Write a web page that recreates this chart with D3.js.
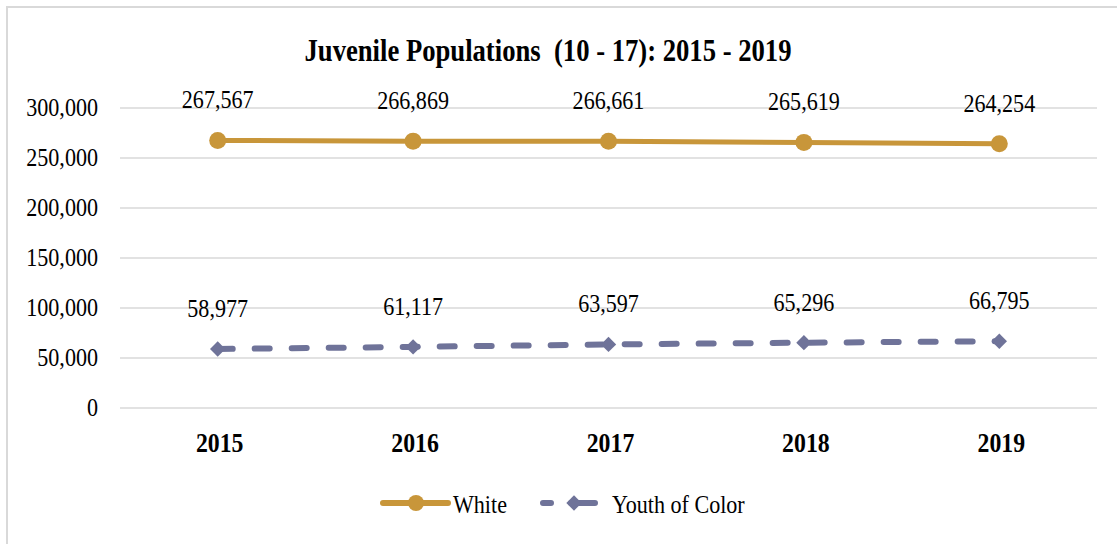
<!DOCTYPE html>
<meta charset="utf-8">
<style>
body { margin: 0; background: #fff; }

.chart text {
    font-family: "Liberation Serif", "Times New Roman", serif;
    fill: #000;
}

.chart .title {
    white-space: pre;
}

.chart .narrow {
    transform-box: fill-box;
    transform-origin: center;
    transform: scaleX(0.85);
}

.chart .tick-label {
    transform-origin: right;
}

.chart .legend-label {
    transform-origin: left;
}

.chart .grid line {
    stroke: #d9d9d9;
    stroke-width: 1.5;
}

.chart .frame {
    fill: none;
    stroke: #d9d9d9;
    stroke-width: 2;
}
</style>
<body>
<svg class="chart js-chart"></svg>

<script src="https://cdn.jsdelivr.net/npm/d3@7"></script>
<script>
"use strict";

var years = ["2015", "2016", "2017", "2018", "2019"],
    white = [267567, 266869, 266661, 265619, 264254],
    youthOfColor = [58977, 61117, 63597, 65296, 66795],
    yTicks = [0, 50000, 100000, 150000, 200000, 250000, 300000],
    titleText = "Juvenile Populations  (10 - 17): 2015 - 2019";

var series = [
    { name: "White", values: white, color: "#c8963a", marker: "circle", dash: null },
    { name: "Youth of Color", values: youthOfColor, color: "#6f7399", marker: "diamond", dash: "15,22" }
];

var width = 1117,
    height = 544,
    margin = { top: 108, right: 20, bottom: 136, left: 120 },
    plotWidth = 977,
    plotHeight = height - margin.top - margin.bottom;

var fmt = d3.format(",");

var svg = d3.select(".js-chart")
    .attr("width", width)
    .attr("height", height);

svg.append("rect")
    .attr("class", "frame")
    .attr("x", 7)
    .attr("y", 7)
    .attr("width", width + 20)
    .attr("height", height + 20);

svg.append("text")
    .attr("class", "title")
    .attr("x", 548)
    .attr("y", 61)
    .attr("text-anchor", "middle")
    .attr("font-size", 32)
    .attr("font-weight", "bold")
    .attr("textLength", 487)
    .attr("lengthAdjust", "spacingAndGlyphs")
    .text(titleText);

var x = d3.scaleBand()
    .domain(years)
    .range([0, plotWidth]);

var y = d3.scaleLinear()
    .domain([0, 300000])
    .range([plotHeight, 0]);

var g = svg.append("g")
    .attr("transform", "translate(" + margin.left + "," + margin.top + ")");

// gridlines
g.append("g")
    .attr("class", "grid")
    .selectAll("line")
    .data(yTicks)
    .join("line")
    .attr("x1", 0)
    .attr("x2", plotWidth)
    .attr("y1", function(d) { return y(d); })
    .attr("y2", function(d) { return y(d); });

// y tick labels
g.append("g")
    .selectAll("text")
    .data(yTicks)
    .join("text")
    .attr("class", "narrow tick-label")
    .attr("x", -22)
    .attr("y", function(d) { return y(d) + 8; })
    .attr("text-anchor", "end")
    .attr("font-size", 26)
    .text(function(d) { return fmt(d); });

// x labels
g.append("g")
    .selectAll("text")
    .data(years)
    .join("text")
    .attr("class", "narrow")
    .attr("x", function(d) { return x(d) + x.bandwidth() / 2 + 2; })
    .attr("y", plotHeight + 44)
    .attr("text-anchor", "middle")
    .attr("font-size", 28)
    .attr("font-weight", "bold")
    .text(function(d) { return d; });

var line = d3.line()
    .x(function(d, i) { return x(years[i]) + x.bandwidth() / 2; })
    .y(function(d) { return y(d); });

var diamond = d3.symbol().type(d3.symbolDiamond2).size(150);

series.forEach(function(s) {
    var sg = g.append("g");

    sg.append("path")
        .attr("d", line(s.values))
        .attr("fill", "none")
        .attr("stroke", s.color)
        .attr("stroke-width", s.dash ? 6 : 5)
        .attr("stroke-linecap", "round")
        .attr("stroke-dasharray", s.dash);

    var pts = sg.selectAll(".pt")
        .data(s.values)
        .join("g")
        .attr("transform", function(d, i) {
            return "translate(" + (x(years[i]) + x.bandwidth() / 2) + "," + y(d) + ")";
        });

    if (s.marker === "circle") {
        pts.append("circle").attr("r", 8.5).attr("fill", s.color);
    } else {
        pts.append("path").attr("d", diamond).attr("fill", s.color);
    }

    pts.append("text")
        .attr("class", "narrow")
        .attr("y", -32)
        .attr("text-anchor", "middle")
        .attr("font-size", 26)
        .text(function(d) { return fmt(d); });
});

// legend
var legend = svg.append("g").attr("transform", "translate(0,503)");
var legendItems = [
    { s: series[0], x1: 383, x2: 448, mx: 416, tx: 453, dash: null },
    { s: series[1], x1: 543, x2: 595, mx: 574, tx: 612, dash: "8,20,100" }
];

legendItems.forEach(function(item) {
    legend.append("line")
        .attr("x1", item.x1)
        .attr("x2", item.x2)
        .attr("stroke", item.s.color)
        .attr("stroke-width", 6)
        .attr("stroke-linecap", "round")
        .attr("stroke-dasharray", item.dash);

    if (item.s.marker === "circle") {
        legend.append("circle").attr("cx", item.mx).attr("r", 8).attr("fill", item.s.color);
    } else {
        legend.append("path")
            .attr("transform", "translate(" + item.mx + ",0)")
            .attr("d", diamond)
            .attr("fill", item.s.color);
    }

    legend.append("text")
        .attr("class", "narrow legend-label")
        .attr("x", item.tx)
        .attr("y", 10)
        .attr("font-size", 26)
        .text(item.s.name);
});
</script>
</body>
